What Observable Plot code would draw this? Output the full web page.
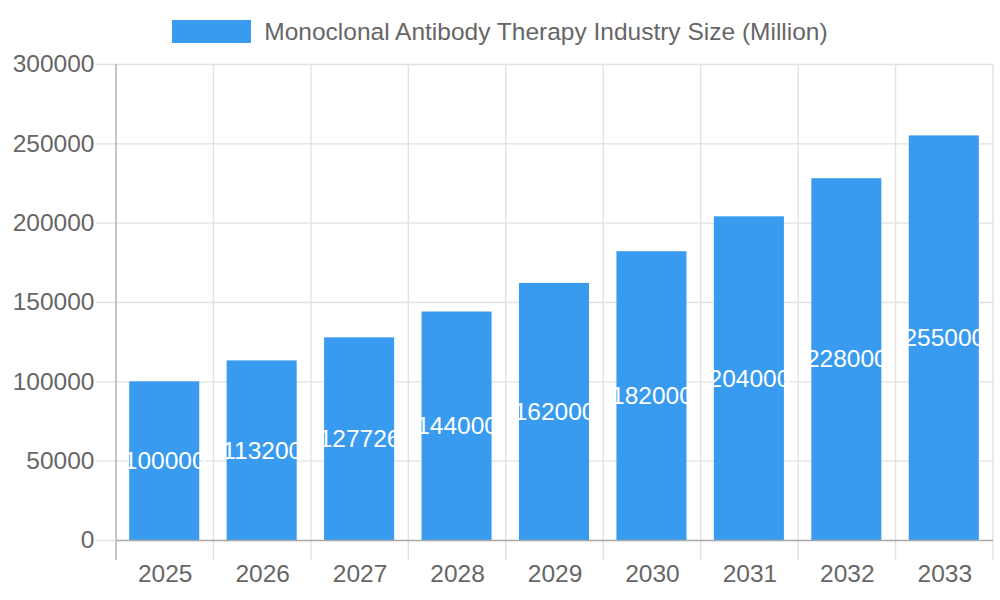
<!DOCTYPE html>
<html><head>
<meta charset="utf-8">
<script src="https://cdn.jsdelivr.net/npm/d3@7"></script>
<script src="https://cdn.jsdelivr.net/npm/@observablehq/plot@0.6"></script>
<style>
body{margin:0;background:#fff;font-family:"Liberation Sans",Arial,sans-serif;width:1000px;height:600px;overflow:hidden}
#legend{height:44px;box-sizing:border-box;padding-top:20px;display:flex;justify-content:center;align-items:flex-start}
#legend .box{width:79px;height:23px;background:#399bef;margin-right:13px}
#legend .lbl{font-size:24.5px;line-height:23px;color:#666}
#chart svg{overflow:visible}
</style></head>
<body>
<div id="legend"><div class="box"></div><div class="lbl">Monoclonal Antibody Therapy Industry Size (Million)</div></div>
<div id="chart"></div>
<script>
const years = ["2025","2026","2027","2028","2029","2030","2031","2032","2033"];
const values = [100000,113200,127726,144000,162000,182000,204000,228000,255000];
const yTicks = [0,50000,100000,150000,200000,250000,300000];

const data = years.map((y,i)=>({year:y,value:values[i]}));

const bandLines = (index, scales, values, dims) => {
  const g = d3.create("svg:g");
  const bw = scales.x.bandwidth ? scales.x.bandwidth() : (dims.width-dims.marginLeft-dims.marginRight)/years.length;
  const xs = years.map(y=>scales.x(y));
  xs.push(xs[xs.length-1]+bw);
  const top = dims.marginTop, bottom = dims.height - dims.marginBottom + 20;
  xs.forEach((x,i)=>{
    g.append("line").attr("x1",x).attr("x2",x).attr("y1",top).attr("y2",bottom)
      .attr("stroke", i===0 ? "#a8a8a8" : "#e1e1e1").attr("stroke-width",1.3);
  });
  return g.node();
};

const FS = 24.5;
const chart = Plot.plot({
  width:1000, height:556,
  marginLeft:116, marginRight:7, marginTop:20, marginBottom:60,
  style:{fontFamily:"Liberation Sans, Arial, sans-serif", fontSize:FS+"px", color:"#666", background:"transparent", overflow:"visible"},
  x:{domain:years, padding:0, round:false, axis:null},
  y:{domain:[0,300000], axis:null},
  marks:[
    Plot.ruleY(yTicks.filter(d=>d>0), {stroke:"#e1e1e1", strokeWidth:1.3, insetLeft:-20}),
    bandLines,
    Plot.barY(data, {x:"year", y:"value", fill:"#399bef", insetLeft:13.2, insetRight:14.2}),
    Plot.ruleY([0], {stroke:"#a8a8a8", strokeWidth:1.3}),
    Plot.ruleY([0], {stroke:"#e1e1e1", strokeWidth:1.3, insetLeft:-20, insetRight:877}),
    Plot.text(data, {x:"year", y:d=>d.value/2, text:d=>String(d.value), fill:"white", fontSize:FS, dx:-0.5}),
    Plot.text(yTicks, {y:d=>d, text:d=>String(d), frameAnchor:"left", textAnchor:"end", dx:-22, fill:"#666", fontSize:FS}),
    Plot.text(years, {x:d=>d, text:d=>d, frameAnchor:"bottom", lineAnchor:"middle", dy:34, fill:"#666", fontSize:FS})
  ]
});
document.getElementById("chart").appendChild(chart);
</script>
</body></html>
